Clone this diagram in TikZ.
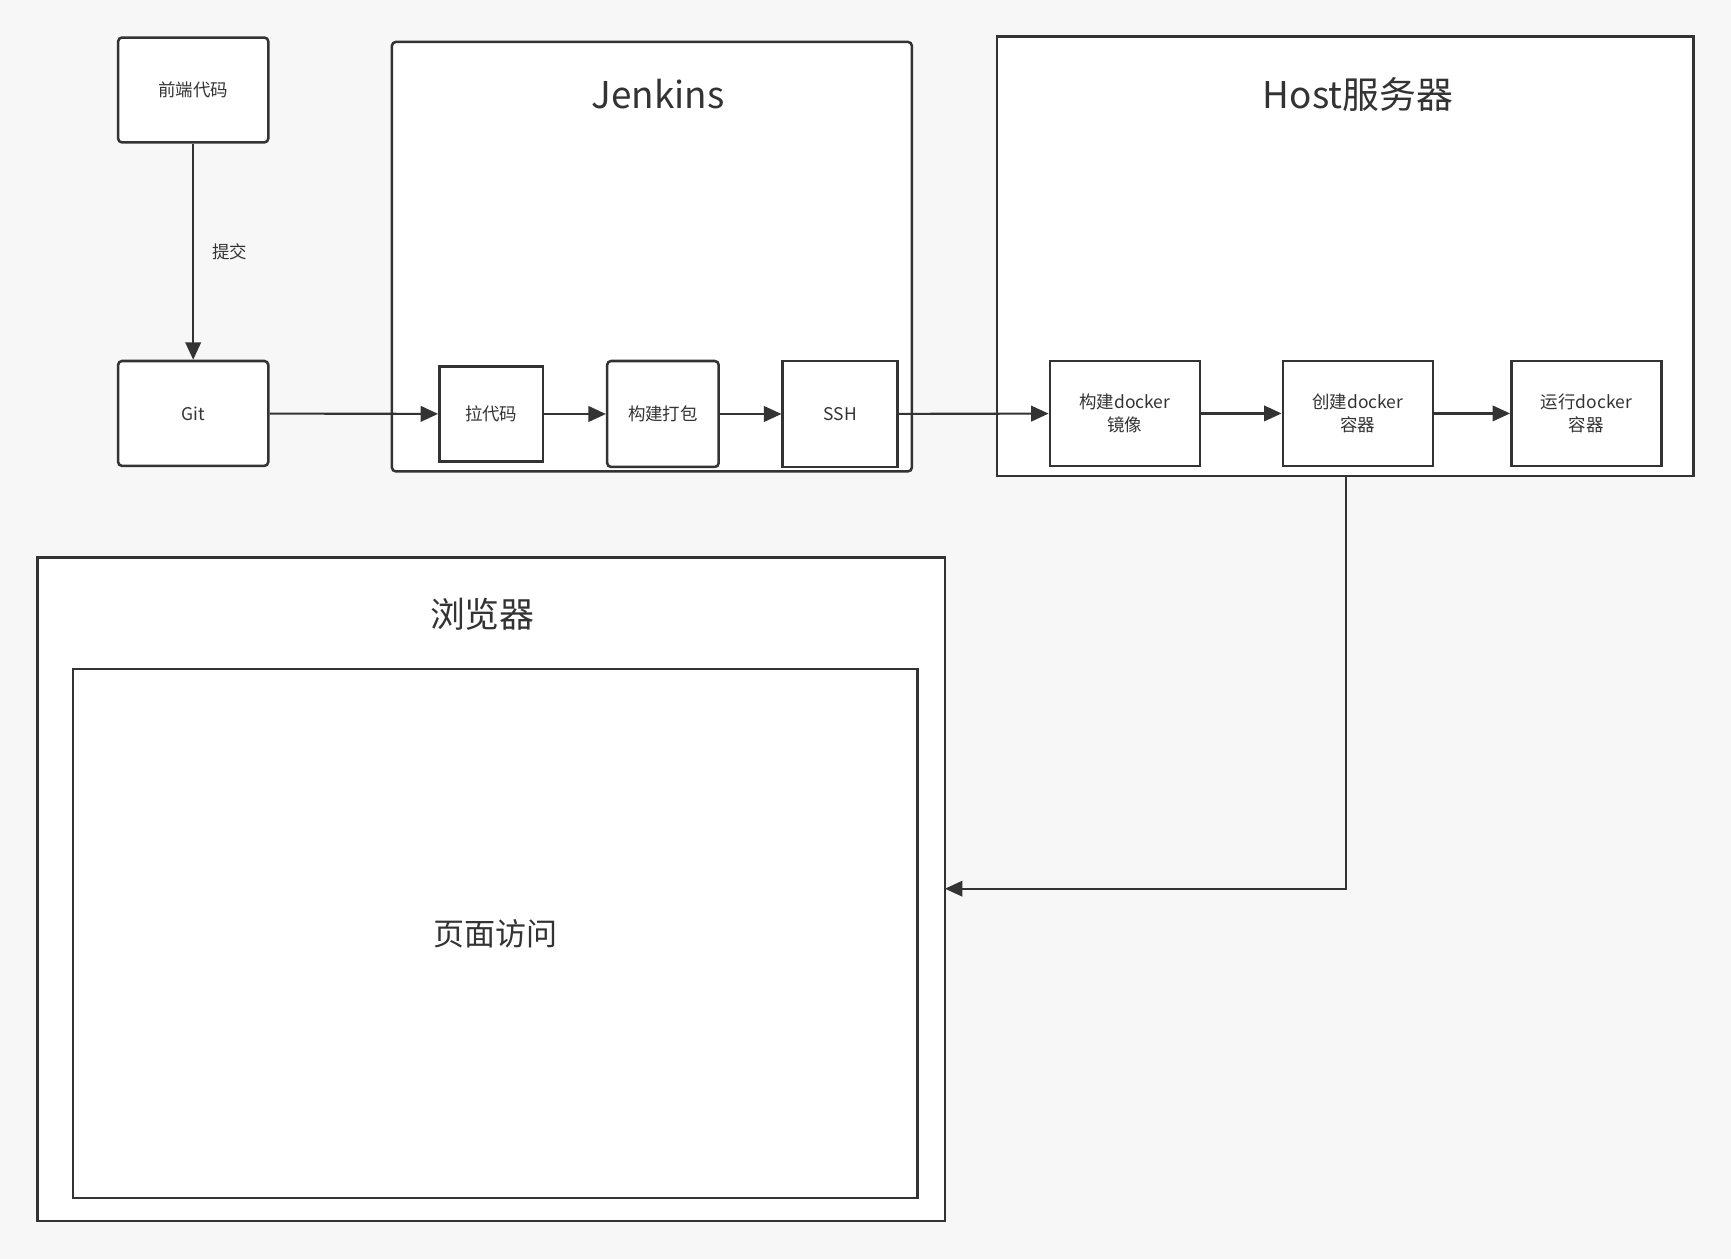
\documentclass[tikz,border=0pt]{standalone}
\usepackage{fontspec}
\setmainfont{Noto Sans CJK SC}
\usetikzlibrary{arrows.meta}
\definecolor{line}{HTML}{333333}
\tikzset{
  box/.style={draw=line, line width=1.3pt, fill=white, inner sep=0pt, align=center, text=line, font=\fontsize{9}{12}\selectfont},
  flow/.style={draw=line, line width=1.1pt, -{Triangle[length=9pt, width=8pt]}},
}
\begin{document}
\begin{tikzpicture}[x=0.02cm, y=-0.02cm]
    \fill[white!97!black] (0,0) rectangle (1568,1140);
    \useasboundingbox (0,0) rectangle (1568,1140);

    % groups
    \draw[line, line width=1.3pt, fill=white, rounded corners=2pt] (355,38) rectangle (826,427);
    \node[font=\fontsize{19}{22}\selectfont, text=line] (jtitle) at (596,85) {Jenkins};
    \draw[line, line width=1.3pt, fill=white] (903,33) rectangle (1534,431);
    \node[font=\fontsize{19}{22}\selectfont, text=line] (htitle) at (1230,86) {Host服务器};
    \draw[line, line width=1.3pt, fill=white] (34,505) rectangle (856,1106);
    \node[font=\fontsize{18}{22}\selectfont, text=line] (btitle) at (437,556) {浏览器};
    \node[box, minimum width=765*0.02cm, minimum height=479*0.02cm, font=\fontsize{16}{20}\selectfont] (page) at (448.5,845.5) {页面访问};
    \coordinate (bin) at (856,805);

    % nodes
    \node[box, rounded corners=2pt, minimum width=136*0.02cm, minimum height=95*0.02cm] (code) at (175,81.5) {前端代码};
    \node[box, rounded corners=2pt, minimum width=136*0.02cm, minimum height=95*0.02cm] (git) at (175,374.5) {Git};
    \node[box, minimum width=94*0.02cm, minimum height=86*0.02cm] (pull) at (445,375) {拉代码};
    \node[box, rounded corners=2pt, minimum width=101*0.02cm, minimum height=96*0.02cm] (build) at (600.5,375) {构建打包};
    \node[box, minimum width=104*0.02cm, minimum height=96*0.02cm] (ssh) at (761,375) {SSH};
    \node[box, minimum width=136*0.02cm, minimum height=95*0.02cm] (image) at (1019,374.5) {构建docker\\镜像};
    \node[box, minimum width=136*0.02cm, minimum height=95*0.02cm] (create) at (1230,374.5) {创建docker\\容器};
    \node[box, minimum width=136*0.02cm, minimum height=95*0.02cm] (run) at (1437,374.5) {运行docker\\容器};

    % connectors
    \draw[flow] (code) -- node[right=6pt, font=\fontsize{9}{12}\selectfont, text=line] (commit) {提交} (git);
    \draw[flow] (git) -- (pull);
    \draw[flow] (pull) -- (build);
    \draw[flow] (build) -- (ssh);
    \draw[flow] (ssh) -- (image);
    \draw[flow] (image) -- (create);
    \draw[flow] (create) -- (run);
    \draw[flow] (1219,431) |- (bin);
\end{tikzpicture}
\end{document}
